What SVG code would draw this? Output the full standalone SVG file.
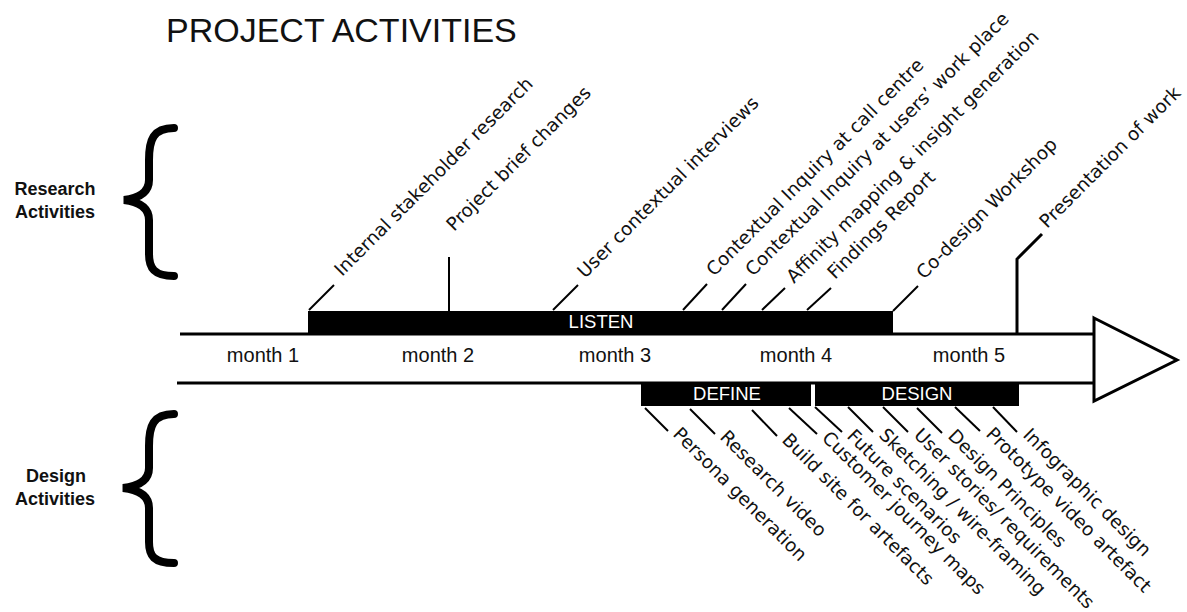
<svg xmlns="http://www.w3.org/2000/svg" width="1187" height="612" viewBox="0 0 1187 612">
<style>
.title{font-family:"Liberation Sans",Arial,sans-serif;font-size:34px;fill:#111}
.side{font-family:"Liberation Sans",Arial,sans-serif;font-size:18px;font-weight:bold;fill:#111;text-anchor:middle}
.month{font-family:"Liberation Sans",Arial,sans-serif;font-size:20px;fill:#111;text-anchor:middle}
.phase{font-family:"Liberation Sans",Arial,sans-serif;font-size:18.5px;fill:#fff;text-anchor:middle}
.lbl{font-family:"DejaVu Sans",Verdana,sans-serif;font-size:18.5px;fill:#111}
.ln{stroke:#000;stroke-width:2;fill:none}
.thick{stroke:#000;stroke-width:3;fill:none}
.brace{stroke:#000;stroke-width:8;fill:none;stroke-linecap:round}
</style>
<rect width="1187" height="612" fill="#fff"/>
<text class="title" x="166" y="42">PROJECT ACTIVITIES</text>

<g id="research-activities">
<path class="brace" d="M174,128 C153,128 149,140 149,160 L149,180 C149,192 140,198 124,200 C140,202 149,208 149,220 L149,254 C149,268 154,276 174,276"/>
<text class="side" x="55" y="195">Research</text>
<text class="side" x="55" y="218">Activities</text>
</g>
<g id="design-activities">
<path class="brace" d="M174,414 C153,414 149,426 149,446 L149,468 C149,480 140,486 123,488 C140,490 149,496 149,508 L149,542 C149,556 154,563 174,563"/>
<text class="side" x="56" y="482">Design</text>
<text class="side" x="55" y="505">Activities</text>
</g>

<g id="timeline">
<line class="thick" x1="180" y1="334" x2="1094" y2="334"/>
<line class="thick" x1="177" y1="383" x2="1094" y2="383"/>
<polygon points="1094,318 1177,360 1094,401" fill="#fff" stroke="#000" stroke-width="3" stroke-linejoin="miter"/>
<text class="month" x="263" y="362">month 1</text>
<text class="month" x="438" y="362">month 2</text>
<text class="month" x="615" y="362">month 3</text>
<text class="month" x="796" y="362">month 4</text>
<text class="month" x="969" y="362">month 5</text>
</g>

<g id="listen">
<rect x="308" y="311" width="585" height="23" fill="#000"/>
<text class="phase" x="601" y="328">LISTEN</text>
</g>
<g id="define">
<rect x="641" y="383" width="170" height="23" fill="#000"/>
<text class="phase" x="727" y="400">DEFINE</text>
</g>
<g id="design">
<rect x="815" y="383" width="204" height="23" fill="#000"/>
<text class="phase" x="917" y="400">DESIGN</text>
</g>

<g id="connectors">
<path class="ln" d="M309,310 L334,285"/>
<path class="ln" d="M449,311 L449,257"/>
<path class="ln" d="M553,310 L578,285"/>
<path class="ln" d="M683,310 L707,284"/>
<path class="ln" d="M722,310 L746,284"/>
<path class="ln" d="M762,310 L785,288"/>
<path class="ln" d="M807,310 L831,288"/>
<path class="ln" d="M893,311 L918,286"/>
<path class="thick" d="M1017,334 L1017,259 L1042,234"/>
<path class="ln" d="M645,408 L668,431"/>
<path class="ln" d="M690,409 L715,434"/>
<path class="ln" d="M752,410 L777,436"/>
<path class="ln" d="M789,408 L817,434"/>
<path class="ln" d="M815,407 L842,432"/>
<path class="ln" d="M848,407 L873,432"/>
<path class="ln" d="M883,407 L908,432"/>
<path class="ln" d="M917,408 L942,433"/>
<path class="ln" d="M955,407 L980,431"/>
<path class="ln" d="M993,407 L1017,432"/>
</g>

<g id="top-labels">
<text class="lbl" transform="translate(342,277) rotate(-45)">Internal stakeholder research</text>
<text class="lbl" transform="translate(454,232) rotate(-45)">Project brief changes</text>
<text class="lbl" transform="translate(585,279) rotate(-45)">User contextual interviews</text>
<text class="lbl" transform="translate(714,277) rotate(-45)">Contextual Inquiry at call centre</text>
<text class="lbl" transform="translate(753,277) rotate(-45)">Contextual Inquiry at users’ work place</text>
<text class="lbl" transform="translate(794,284) rotate(-45)">Affinity mapping &amp; insight generation</text>
<text class="lbl" transform="translate(835,280) rotate(-45)">Findings Report</text>
<text class="lbl" transform="translate(924,280) rotate(-45)">Co-design Workshop</text>
<text class="lbl" transform="translate(1047,229) rotate(-45)">Presentation of work</text>
</g>

<g id="bottom-labels">
<text class="lbl" transform="translate(672,435) rotate(45)">Persona generation</text>
<text class="lbl" transform="translate(719,438) rotate(45)">Research video</text>
<text class="lbl" transform="translate(781,441) rotate(45)">Build site for artefacts</text>
<text class="lbl" transform="translate(821,439) rotate(45)">Customer journey maps</text>
<text class="lbl" transform="translate(846,437) rotate(45)">Future scenarios</text>
<text class="lbl" transform="translate(878,436) rotate(45)">Sketching / wire-framing</text>
<text class="lbl" transform="translate(913,436) rotate(45)">User stories/ requirements</text>
<text class="lbl" transform="translate(947,437) rotate(45)">Design Principles</text>
<text class="lbl" transform="translate(985,435) rotate(45)">Prototype video artefact</text>
<text class="lbl" transform="translate(1022,436) rotate(45)">Infographic design</text>
</g>
</svg>
